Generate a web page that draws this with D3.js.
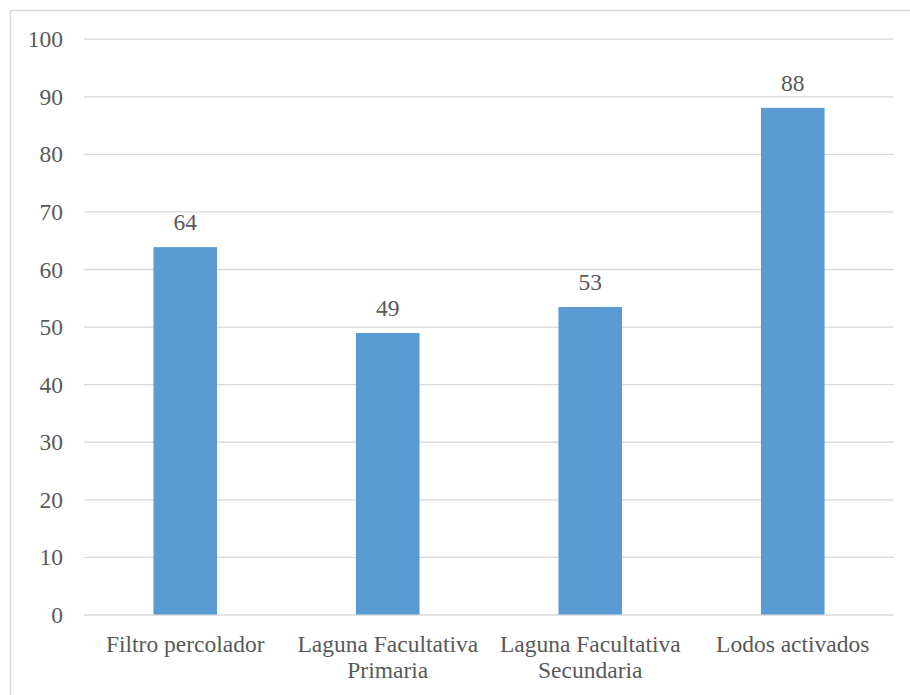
<!DOCTYPE html>
<html><head><meta charset="utf-8">
<script src="https://cdn.jsdelivr.net/npm/d3@7"></script>
<style>body{margin:0;background:#fff;}svg{display:block;}</style>
</head><body>
<svg id="chart" width="910" height="695"></svg>
<script>
const categories = [["Filtro percolador"], ["Laguna Facultativa", "Primaria"], ["Laguna Facultativa", "Secundaria"], ["Lodos activados"]];
const values = [63.8, 48.9, 53.4, 88.0];
const yTicks = [0, 10, 20, 30, 40, 50, 60, 70, 80, 90, 100];

(function() {
const svg = d3.select("#chart");
const font = "Liberation Serif, DejaVu Serif, serif";
const textColor = "#595959";
const fs = 23.5;
const plotLeft = 84, plotRight = 894, plotTop = 38.7, plotBottom = 614.5;

svg.append("rect").attr("x", 10.5).attr("y", 10.5).attr("width", 920).attr("height", 720)
  .attr("fill", "none").attr("stroke", "#d9d9d9").attr("stroke-width", 1.5);

const x = d3.scaleBand().domain(d3.range(categories.length)).range([plotLeft, plotRight])
  .paddingInner(0.686).paddingOuter(0.343);
const y = d3.scaleLinear().domain([0, 100]).range([plotBottom, plotTop]);

const yAxis = d3.axisLeft(y).tickValues(yTicks).tickSize(-(plotRight - plotLeft)).tickPadding(21);
const gy = svg.append("g").attr("transform", `translate(${plotLeft},0)`).call(yAxis);
gy.select(".domain").remove();
gy.selectAll(".tick line").attr("stroke", "#d9d9d9").attr("stroke-width", 1.3);
gy.selectAll(".tick text").attr("fill", textColor).style("font-family", font).style("font-size", fs + "px").attr("dy", "0.34em");

svg.append("g").selectAll("rect").data(values).join("rect")
  .attr("x", (d, i) => x(i)).attr("width", x.bandwidth())
  .attr("y", d => y(d)).attr("height", d => y(0) - y(d))
  .attr("fill", "#5B9BD5");

svg.append("g").selectAll("text").data(values).join("text")
  .attr("x", (d, i) => x(i) + x.bandwidth() / 2)
  .attr("y", d => y(d) - 17)
  .attr("text-anchor", "middle").attr("fill", textColor)
  .style("font-family", font).style("font-size", fs + "px")
  .text(d => d3.format(".0f")(d));

const xl = svg.append("g").selectAll("text").data(categories).join("text")
  .attr("text-anchor", "middle").attr("fill", textColor)
  .style("font-family", font).style("font-size", fs + "px");
xl.each(function(lines, i) {
  const t = d3.select(this);
  lines.forEach((ln, j) => {
    t.append("tspan").attr("x", x(i) + x.bandwidth() / 2).attr("y", 651.5 + j * 26.5).text(ln);
  });
});
})();
</script>
</body></html>
